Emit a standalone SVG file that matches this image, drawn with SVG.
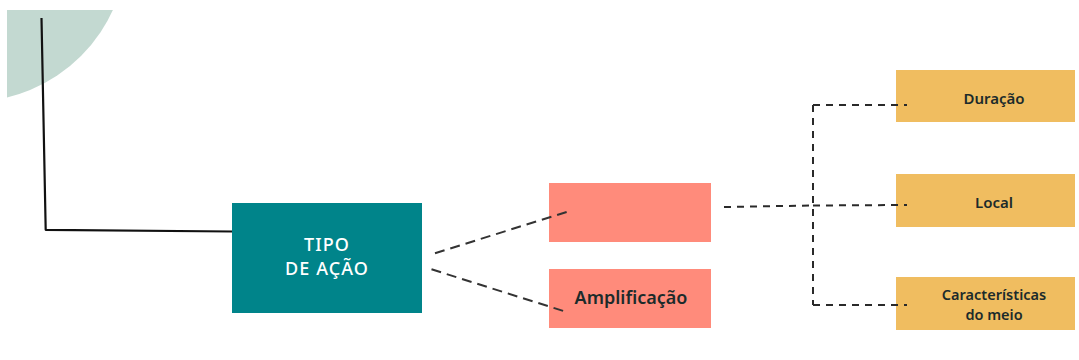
<svg xmlns="http://www.w3.org/2000/svg" width="1079" height="360" viewBox="0 0 1079 360">
  <style>
    .teal { fill: #00848a; }
    .salmon { fill: #ff8b7b; }
    .amber { fill: #f0bd60; }
    .light { font-family: "Noto Sans", Lato, sans-serif; font-size: 18px; font-weight: 500; letter-spacing: 1.1px; fill: #ffffff; text-anchor: middle; }
    .dark { font-family: "Noto Sans", Lato, sans-serif; font-weight: 600; fill: #1c2b2b; text-anchor: middle; }
    .dash-long { fill: none; stroke: #333333; stroke-width: 2; stroke-dasharray: 10 6; }
    .dash-short { fill: none; stroke: #2a2a2a; stroke-width: 2; stroke-dasharray: 7 6; }
  </style>
  <defs>
    <clipPath id="corner">
      <rect x="7" y="10" width="300" height="200"/>
    </clipPath>
  </defs>

  <rect width="1079" height="360" fill="#ffffff"/>

  <!-- decorative disc in the upper-left corner -->
  <circle cx="-30" cy="-55" r="157" fill="#c3d9d1" clip-path="url(#corner)"/>

  <g id="tipo-de-acao">
    <rect class="teal" x="232" y="203" width="190" height="110"/>
    <text class="light" x="327" y="251">TIPO</text>
    <text class="light" x="327" y="275">DE AÇÃO</text>
  </g>

  <g id="acao-vazia">
    <rect class="salmon" x="549" y="183" width="162" height="59"/>
  </g>

  <g id="amplificacao">
    <rect class="salmon" x="549" y="269" width="162" height="59"/>
    <text class="dark" x="631" y="304" font-size="18">Amplificação</text>
  </g>

  <g id="duracao">
    <rect class="amber" x="896" y="70" width="179" height="52"/>
    <text class="dark" x="994" y="104" font-size="15">Duração</text>
  </g>

  <g id="local">
    <rect class="amber" x="896" y="174" width="179" height="53"/>
    <text class="dark" x="994" y="208" font-size="15">Local</text>
  </g>

  <g id="caracteristicas-do-meio">
    <rect class="amber" x="896" y="277" width="179" height="53"/>
    <text class="dark" x="994" y="300" font-size="14.5">Características</text>
    <text class="dark" x="994" y="320" font-size="14.5">do meio</text>
  </g>

  <!-- connectors, drawn last so their tips overlap the boxes -->
  <g id="connectors">
    <path d="M41.5 18 L45.7 229.8 L232 231.5" fill="none" stroke="#111111" stroke-width="2.2" stroke-linejoin="round"/>
    <path class="dash-long" d="M435 253.3 L568 211.5"/>
    <path class="dash-long" d="M431.5 269.3 L565 311.5"/>
    <path class="dash-short" d="M724 207 L813 205.5"/>
    <path class="dash-short" d="M813 105 L813 305"/>
    <path class="dash-short" d="M813 105 L907 105"/>
    <path class="dash-short" d="M813 205.5 L907 205"/>
    <path class="dash-short" d="M813 305 L907 305"/>
  </g>
</svg>
